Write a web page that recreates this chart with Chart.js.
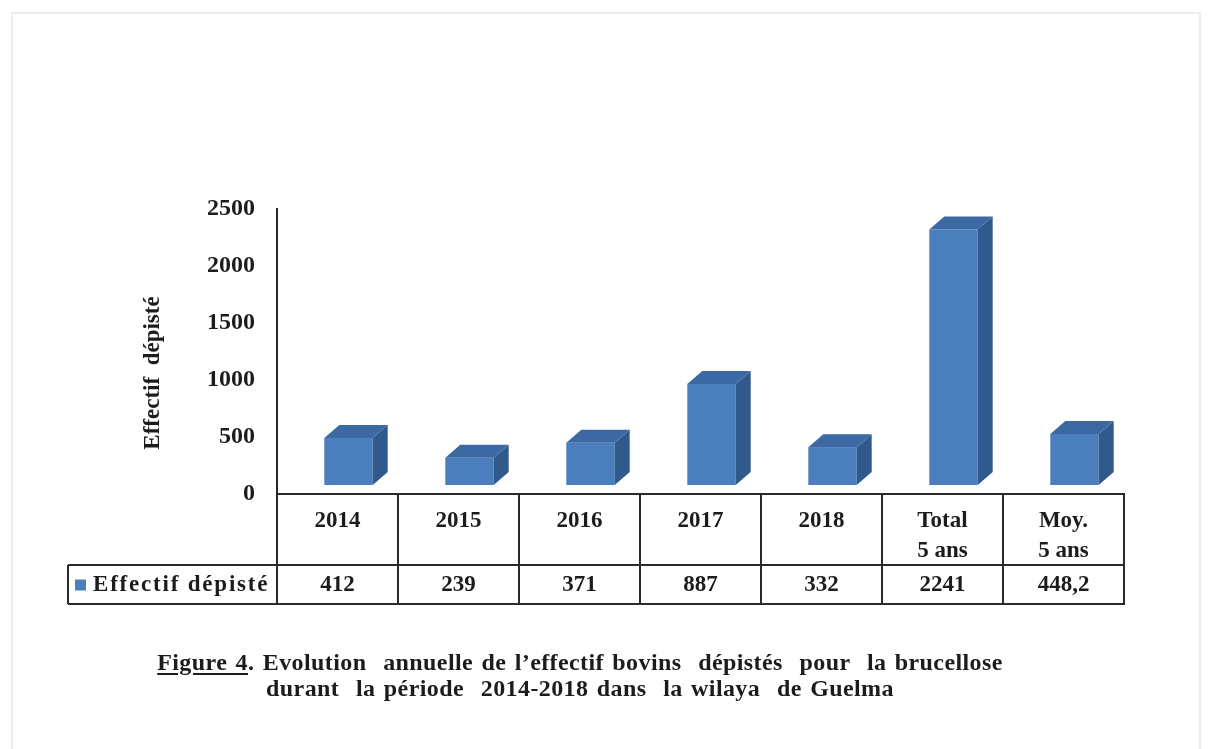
<!DOCTYPE html>
<html lang="fr">
<head>
<meta charset="UTF-8">
<title>Effectif bovins dépistés - Guelma</title>
<script src="https://cdn.jsdelivr.net/npm/chart.js"></script>
<style>
  body { margin: 0; background: #fff; }
  #wrap { position: relative; width: 1208px; height: 749px; overflow: hidden; }
  #frame { position: absolute; left: 11px; top: 12px; width: 1186px; height: 800px;
           border: 2px solid #ececec; border-bottom: none; }
  #chart { position: absolute; left: 0; top: 0; }
  .caption { position: absolute; left: 0; width: 1160px; text-align: center; white-space: pre;
             font: bold 24px "Liberation Serif", "DejaVu Serif", serif; color: #1c1c1c;
             letter-spacing: 0.4px; word-spacing: 2px; }
  .caption u { text-underline-offset: 3px; }
</style>
</head>
<body>
<div id="wrap">
  <div id="frame"></div>
  <canvas id="chart" width="1208" height="749"></canvas>
  <div class="caption" style="top:649px"><u>Figure 4</u>. Evolution  annuelle de l’effectif bovins  dépistés  pour  la brucellose</div>
  <div class="caption" style="top:675px">durant  la période  2014-2018 dans  la wilaya  de Guelma</div>
</div>

<script>
  // données du graphique
  const categories = [['2014'], ['2015'], ['2016'], ['2017'], ['2018'], ['Total', '5 ans'], ['Moy.', '5 ans']];
  const effectif = [412, 239, 371, 887, 332, 2241, 448.2];
  const yTicks = [0, 500, 1000, 1500, 2000, 2500];
  const seriesLabel = 'Effectif dépisté';
  const yTitle = 'Effectif  dépisté';

  const SERIF = '"Liberation Serif", "DejaVu Serif", serif';
  const INK = '#1c1c1c';
  const FRONT = '#4a7ebd';
  const SIDE = '#30598c';
  const TOP = '#3c68a3';

  // décalage 3D des barres
  const SHIFT_X = 11, SHIFT_Y = 9, DX = 15, DY = 13;
  const TABLE_MID = 565, TABLE_BOTTOM = 604, LEGEND_LEFT = 68;

  const bar3d = {
    id: 'bar3d',
    afterDatasetsDraw(chart) {
      const ctx = chart.ctx;
      ctx.save();
      chart.getDatasetMeta(0).data.forEach(bar => {
        const { x, y, base, width } = bar.getProps(['x', 'y', 'base', 'width'], true);
        const l = x - width / 2 + SHIFT_X, r = x + width / 2 + SHIFT_X;
        const t = y - SHIFT_Y, b = base - SHIFT_Y;
        ctx.fillStyle = FRONT;
        ctx.fillRect(l, t, r - l, b - t);
        ctx.fillStyle = SIDE;
        ctx.beginPath();
        ctx.moveTo(r, t); ctx.lineTo(r + DX, t - DY); ctx.lineTo(r + DX, b - DY); ctx.lineTo(r, b);
        ctx.closePath(); ctx.fill();
        ctx.fillStyle = TOP;
        ctx.beginPath();
        ctx.moveTo(l, t); ctx.lineTo(l + DX, t - DY); ctx.lineTo(r + DX, t - DY); ctx.lineTo(r, t);
        ctx.closePath(); ctx.fill();
      });
      ctx.restore();
    }
  };

  // tableau de données sous l'axe + titre de l'axe y
  const dataTable = {
    id: 'dataTable',
    afterDraw(chart) {
      const ctx = chart.ctx;
      const xs = chart.scales.x;
      const area = chart.chartArea;
      const step = (area.right - area.left) / categories.length;
      ctx.save();
      ctx.strokeStyle = '#2a2a2a';
      ctx.lineWidth = 2;
      ctx.beginPath();
      for (let i = 0; i <= categories.length; i++) {
        const ex = Math.round(area.left + i * step);
        ctx.moveTo(ex, area.bottom);
        ctx.lineTo(ex, TABLE_BOTTOM);
      }
      ctx.moveTo(LEGEND_LEFT, TABLE_MID); ctx.lineTo(area.right, TABLE_MID);
      ctx.moveTo(LEGEND_LEFT, TABLE_BOTTOM); ctx.lineTo(area.right + 1, TABLE_BOTTOM);
      ctx.moveTo(LEGEND_LEFT, TABLE_MID); ctx.lineTo(LEGEND_LEFT, TABLE_BOTTOM);
      ctx.stroke();

      const rowY = (TABLE_MID + TABLE_BOTTOM) / 2 + 1;
      ctx.fillStyle = INK;
      ctx.font = 'bold 23px ' + SERIF;
      ctx.textAlign = 'center';
      ctx.textBaseline = 'middle';
      effectif.forEach((v, i) => {
        ctx.fillText(String(v).replace('.', ','), xs.getPixelForValue(i), rowY);
      });

      ctx.fillStyle = FRONT;
      ctx.fillRect(LEGEND_LEFT + 7, rowY - 6, 11, 11);
      ctx.fillStyle = INK;
      ctx.textAlign = 'left';
      ctx.letterSpacing = '1.8px';
      ctx.fillText(seriesLabel, LEGEND_LEFT + 25, rowY);
      ctx.letterSpacing = '0px';

      ctx.translate(153, 373);
      ctx.rotate(-Math.PI / 2);
      ctx.textAlign = 'center';
      ctx.font = 'bold 23px ' + SERIF;
      ctx.fillText(yTitle, 0, 0);
      ctx.restore();
    }
  };

  new Chart(document.getElementById('chart'), {
    type: 'bar',
    data: {
      labels: categories,
      datasets: [{
        label: seriesLabel,
        data: effectif,
        backgroundColor: 'rgba(0,0,0,0)',
        borderWidth: 0,
        barPercentage: 0.4,
        categoryPercentage: 1
      }]
    },
    options: {
      responsive: false,
      animation: false,
      layout: { padding: { top: 209, right: 84, bottom: 145, left: 0 } },
      plugins: { legend: { display: false }, tooltip: { enabled: false } },
      scales: {
        x: {
          grid: { display: false, drawTicks: false },
          border: { display: true, color: '#2a2a2a', width: 2 },
          ticks: { color: INK, padding: 12, maxRotation: 0, autoSkip: false,
                   font: { family: SERIF, size: 23, weight: 'bold', lineHeight: 1.3 } },
          afterFit(s) { s.height = 110; }
        },
        y: {
          min: 0, max: 2500,
          afterBuildTicks(s) { s.ticks = yTicks.map(v => ({ value: v })); },
          grid: { display: false, drawTicks: false },
          border: { display: true, color: '#2a2a2a', width: 2 },
          ticks: { color: INK, padding: 22, callback: v => String(v),
                   font: { family: SERIF, size: 24, weight: 'bold' } },
          afterFit(s) { s.width = 277; }
        }
      }
    },
    plugins: [bar3d, dataTable]
  });
</script>
</body>
</html>
